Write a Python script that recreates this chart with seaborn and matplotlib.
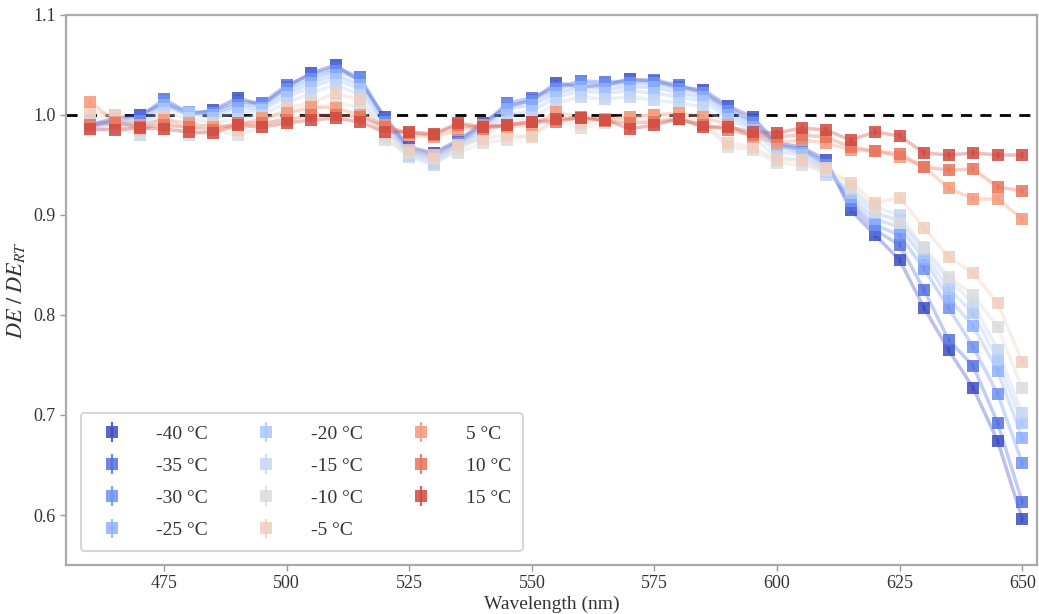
import numpy as np
import pandas as pd
import matplotlib
matplotlib.use("Agg")
import matplotlib.pyplot as plt
import seaborn as sns

wavelengths = list(range(460, 651, 5))
temperatures = [-40, -35, -30, -25, -20, -15, -10, -5, 5, 10, 15]
temp_labels = ["-40 °C", "-35 °C", "-30 °C", "-25 °C", "-20 °C", "-15 °C",
               "-10 °C", "-5 °C", "5 °C", "10 °C", "15 °C"]

de_m40 = [0.990, 0.997, 1.000, 1.012, 1.000, 1.005, 1.017, 1.010, 1.028, 1.042, 1.050, 1.033, 0.998,
          0.968, 0.962, 0.975, 0.992, 1.008, 1.015, 1.032, 1.028, 1.030, 1.036, 1.034, 1.028, 1.025,
          1.009, 0.998, 0.972, 0.968, 0.955, 0.905, 0.880, 0.855, 0.807, 0.765, 0.727, 0.674, 0.596]
de_m35 = [0.988, 0.995, 0.998, 1.016, 1.002, 1.004, 1.013, 1.012, 1.030, 1.040, 1.047, 1.038, 0.996,
          0.966, 0.960, 0.973, 0.990, 1.012, 1.017, 1.028, 1.034, 1.033, 1.034, 1.035, 1.030, 1.022,
          1.007, 0.994, 0.970, 0.966, 0.952, 0.910, 0.885, 0.870, 0.825, 0.775, 0.749, 0.692, 0.613]
de_m30 = [0.992, 0.993, 0.994, 1.013, 1.003, 1.002, 1.010, 1.010, 1.026, 1.036, 1.044, 1.036, 0.993,
          0.964, 0.958, 0.972, 0.988, 1.010, 1.014, 1.026, 1.032, 1.030, 1.032, 1.032, 1.026, 1.022,
          1.004, 0.992, 0.970, 0.965, 0.950, 0.914, 0.890, 0.880, 0.846, 0.807, 0.768, 0.721, 0.652]
de_m25 = [0.990, 0.992, 0.990, 1.010, 1.003, 1.000, 1.007, 1.007, 1.022, 1.032, 1.040, 1.030, 0.990,
          0.962, 0.955, 0.970, 0.985, 1.006, 1.010, 1.022, 1.028, 1.026, 1.028, 1.028, 1.022, 1.018,
          1.000, 0.988, 0.968, 0.962, 0.947, 0.918, 0.896, 0.888, 0.856, 0.817, 0.789, 0.744, 0.677]
de_m20 = [0.988, 0.990, 0.986, 1.006, 1.002, 0.997, 1.002, 1.005, 1.018, 1.028, 1.036, 1.026, 0.985,
          0.960, 0.952, 0.968, 0.982, 1.000, 1.004, 1.018, 1.024, 1.022, 1.024, 1.022, 1.018, 1.014,
          0.996, 0.985, 0.963, 0.960, 0.943, 0.922, 0.902, 0.895, 0.862, 0.826, 0.802, 0.755, 0.692]
de_m15 = [0.985, 0.987, 0.980, 1.002, 0.997, 0.992, 0.996, 1.000, 1.012, 1.022, 1.030, 1.020, 0.978,
          0.958, 0.950, 0.966, 0.978, 0.993, 0.997, 1.012, 1.018, 1.016, 1.018, 1.015, 1.012, 1.008,
          0.990, 0.978, 0.958, 0.955, 0.940, 0.926, 0.908, 0.900, 0.866, 0.835, 0.812, 0.765, 0.702]
de_m10 = [0.995, 1.000, 0.982, 0.995, 0.980, 0.985, 0.980, 0.988, 1.000, 1.005, 1.012, 1.008, 0.975,
          0.962, 0.956, 0.962, 0.972, 0.975, 0.980, 0.995, 0.987, 0.992, 0.995, 0.996, 0.995, 0.990,
          0.968, 0.965, 0.952, 0.950, 0.945, 0.928, 0.903, 0.892, 0.868, 0.838, 0.820, 0.788, 0.727]
de_m5 = [1.003, 1.000, 0.985, 0.998, 0.985, 0.992, 0.985, 0.993, 1.007, 1.012, 1.022, 1.015, 0.982,
         0.965, 0.960, 0.970, 0.976, 0.980, 0.978, 0.998, 0.992, 0.995, 0.998, 1.000, 0.998, 0.992,
         0.972, 0.968, 0.955, 0.955, 0.947, 0.932, 0.912, 0.917, 0.887, 0.858, 0.842, 0.812, 0.753]
de_p5 = [1.013, 0.993, 0.990, 0.995, 0.992, 0.988, 0.990, 0.997, 1.002, 1.008, 1.007, 1.000, 0.990,
         0.980, 0.978, 0.985, 0.990, 0.988, 0.990, 1.003, 0.997, 0.996, 0.998, 1.000, 1.002, 0.998,
         0.990, 0.978, 0.972, 0.975, 0.972, 0.965, 0.964, 0.958, 0.948, 0.927, 0.916, 0.916, 0.896]
de_p10 = [0.990, 0.992, 0.988, 0.990, 0.988, 0.985, 0.992, 0.992, 0.995, 1.000, 1.000, 0.998, 0.988,
          0.982, 0.980, 0.990, 0.986, 0.990, 0.993, 0.993, 0.998, 0.994, 0.992, 0.993, 0.996, 0.990,
          0.985, 0.980, 0.978, 0.980, 0.978, 0.968, 0.964, 0.961, 0.948, 0.945, 0.946, 0.928, 0.924]
de_p15 = [0.986, 0.985, 0.987, 0.986, 0.983, 0.982, 0.990, 0.988, 0.992, 0.995, 0.997, 0.993, 0.983,
          0.983, 0.981, 0.992, 0.988, 0.990, 0.993, 0.996, 0.997, 0.995, 0.986, 0.990, 0.996, 0.988,
          0.988, 0.983, 0.982, 0.987, 0.985, 0.975, 0.983, 0.979, 0.962, 0.960, 0.962, 0.960, 0.960]

series = [de_m40, de_m35, de_m30, de_m25, de_m20, de_m15, de_m10, de_m5, de_p5, de_p10, de_p15]
err_size = 0.003

sns.set_theme(style="white")
plt.rcParams["font.family"] = ["Liberation Serif", "DejaVu Serif"]
plt.rcParams["mathtext.fontset"] = "stix"

fig = plt.figure(figsize=(10.39, 6.14), dpi=100)
ax = fig.add_axes([0.0635, 0.0798, 0.9345, 0.8958])

cmap = sns.color_palette("coolwarm", as_cmap=True)
norm = matplotlib.colors.Normalize(vmin=-40, vmax=20)

rows = []
for t, lab, vals in zip(temperatures, temp_labels, series):
    for w, v in zip(wavelengths, vals):
        rows.append({"Wavelength": w, "DE": v, "T": t, "label": lab})
df = pd.DataFrame(rows)

ax.axhline(1.0, color="black", linestyle=(0, (4, 3)), linewidth=2, zorder=1)

for t, lab in zip(temperatures, temp_labels):
    sub = df[df["T"] == t]
    c = cmap(norm(t))
    sns.lineplot(data=sub, x="Wavelength", y="DE", ax=ax, color=c, alpha=0.35,
                 linewidth=2.5, legend=False, zorder=2)
    ax.errorbar(sub["Wavelength"], sub["DE"], yerr=err_size, fmt="s", color=c,
                markersize=8, alpha=0.85, capsize=4, elinewidth=1.6, capthick=1.6,
                markeredgewidth=0, label=lab, zorder=3)

ax.set_xlim(455, 653)
ax.set_ylim(0.55, 1.1)
ax.set_xticks([475, 500, 525, 550, 575, 600, 625, 650])
ax.set_yticks([0.6, 0.7, 0.8, 0.9, 1.0, 1.1])
ax.set_yticklabels(["0.6", "0.7", "0.8", "0.9", "1.0", "1.1"])
ax.tick_params(axis="both", labelsize=13, colors="#333333", length=4, width=1,
               direction="out", left=True, bottom=True)
ax.tick_params(axis="both", color="#999999")
for s in ax.spines.values():
    s.set_color("#aaaaaa")
    s.set_linewidth(1.6)

ax.set_xlabel("Wavelength (nm)", fontsize=14, color="#333333", labelpad=2)
ax.set_ylabel(r"$DE\ /\ DE_{RT}$", fontsize=16, color="#333333", labelpad=4)

leg = ax.legend(ncol=3, loc="lower left", bbox_to_anchor=(0.005, 0.008), fontsize=14,
                frameon=True, handlelength=2.0, handletextpad=1.3, columnspacing=2.0,
                labelspacing=0.75, borderpad=0.6, fancybox=True)
leg.get_frame().set_edgecolor("#cccccc")
leg.get_frame().set_linewidth(1.5)
for txt in leg.get_texts():
    txt.set_color("#333333")

fig.savefig("out.png", dpi=100)
